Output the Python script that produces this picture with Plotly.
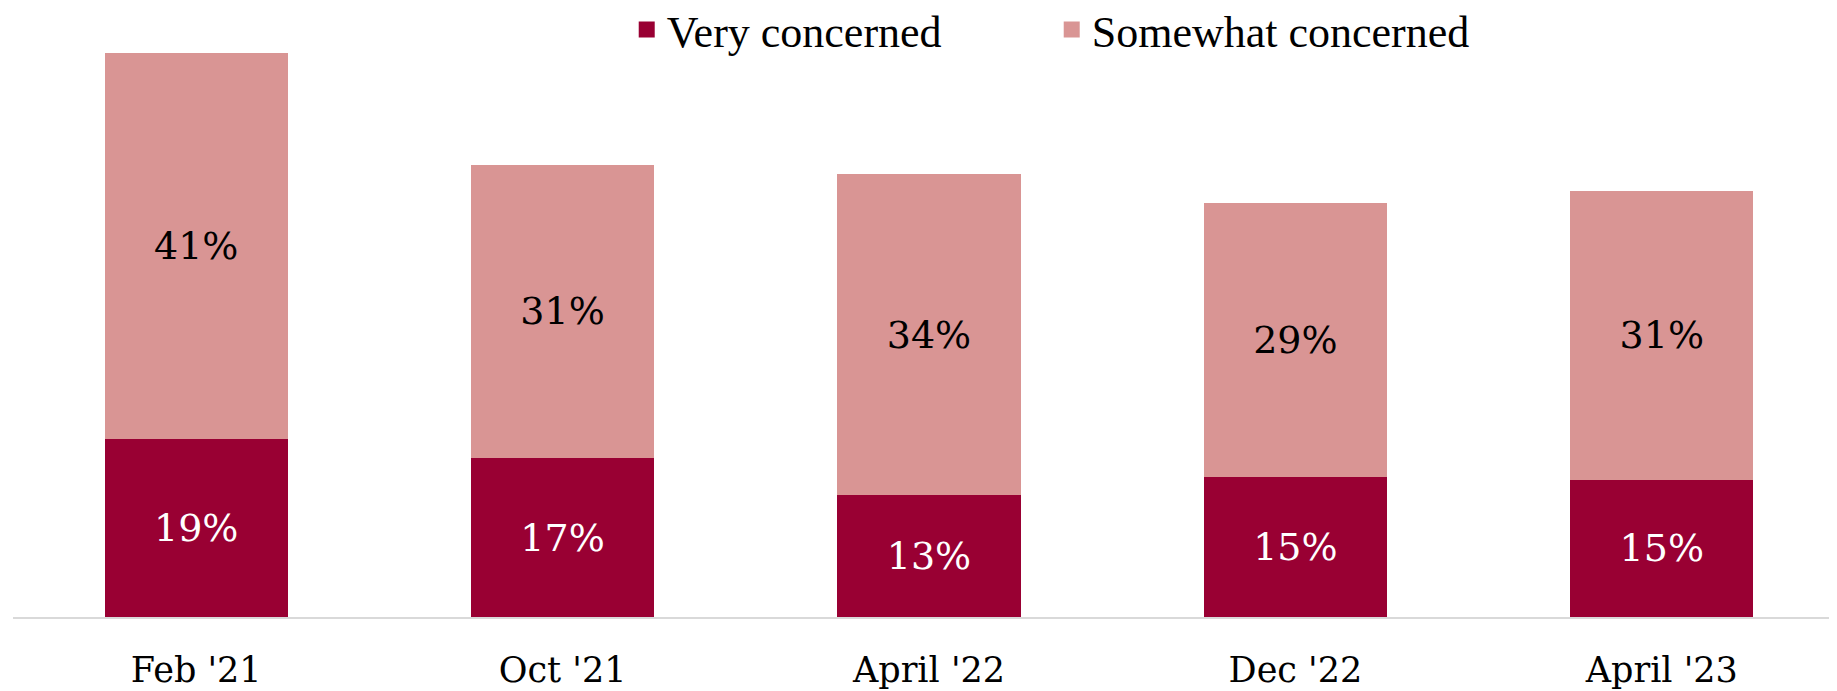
import plotly.graph_objects as go

categories = ["Feb '21", "Oct '21", "April '22", "Dec '22", "April '23"]
very_concerned = [18.9, 16.9, 12.95, 14.9, 14.6]
somewhat_concerned = [41.1, 31.2, 34.1, 29.1, 30.7]
series_names = ["Very concerned", "Somewhat concerned"]
series_colors = ["#990033", "#D99594"]

serif = "DejaVu Serif"

fig = go.Figure()
fig.add_trace(go.Bar(
    x=categories, y=very_concerned, name=series_names[0], showlegend=False,
    marker=dict(color=series_colors[0], line=dict(width=0)),
    texttemplate="%{y:.0f}%", textposition="inside", insidetextanchor="middle",
    textfont=dict(family=serif, size=38, color="white"),
))
fig.add_trace(go.Bar(
    x=categories, y=somewhat_concerned, name=series_names[1], showlegend=False,
    marker=dict(color=series_colors[1], line=dict(width=0)),
    texttemplate="%{y:.0f}%", textposition="inside", insidetextanchor="middle",
    textfont=dict(family=serif, size=38, color="black"),
))
# legend entries with bigger square swatches
for name, color in zip(series_names, series_colors):
    fig.add_trace(go.Scatter(
        x=[None], y=[None], mode="markers", name=name,
        marker=dict(symbol="square", size=21, color=color),
    ))

fig.update_layout(
    barmode="stack", bargap=0.5,
    width=1837, height=691,
    margin=dict(l=5, r=0, t=22, b=82, autoexpand=False),
    plot_bgcolor="white", paper_bgcolor="white",
    uniformtext=dict(mode="show", minsize=38),
    legend=dict(
        orientation="h", traceorder="normal",
        x=0.335, xanchor="left", y=1.0, yanchor="middle",
        entrywidth=380, itemsizing="trace",
        font=dict(family="Liberation Serif", size=44, color="black"),
        bgcolor="rgba(0,0,0,0)",
    ),
)
fig.update_xaxes(
    showline=True, linecolor="#D9D9D9", linewidth=2, automargin=False,
    ticks="outside", ticklen=21, tickcolor="rgba(0,0,0,0)",
    tickfont=dict(family=serif, size=35, color="black"),
)
fig.update_yaxes(visible=False, range=[0, 62.4], automargin=False)

fig.write_html("out.html")
